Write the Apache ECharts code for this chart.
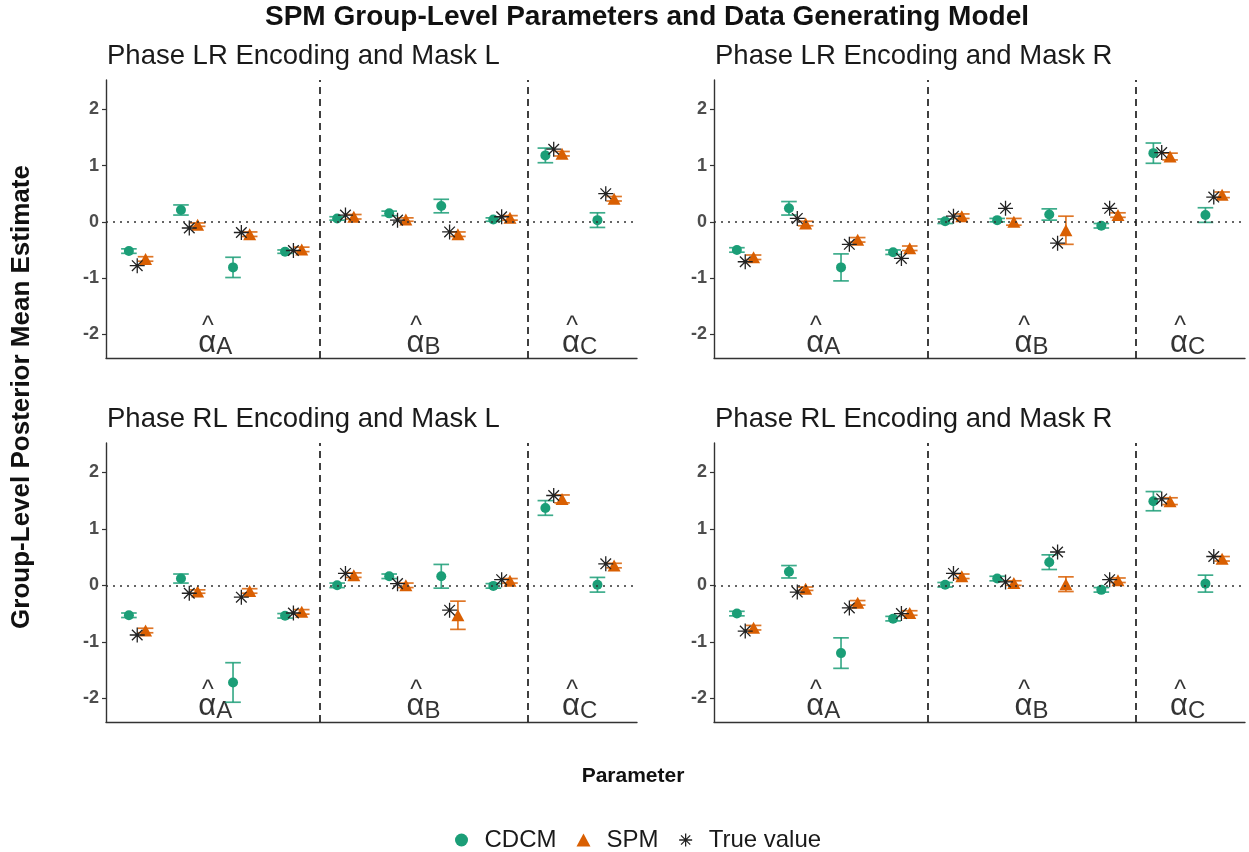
<!DOCTYPE html>
<html>
<head>
<meta charset="utf-8">
<script src="https://cdn.jsdelivr.net/npm/echarts@6/dist/echarts.min.js"></script>
<style>
  html, body { margin: 0; padding: 0; background: #ffffff; }
  #chart { width: 1249px; height: 852px; }
</style>
</head>
<body>
<div id="chart"></div>
<script>
// ---- Data -------------------------------------------------------------
const positions = [1, 2, 3, 4, 5, 6, 7, 8, 9, 10];
const groupBoundaries = [4.5, 8.5];
const groupLabelPositions = [2.5, 6.5, 9.5];
const groupLabelSubscripts = ['A', 'B', 'C'];
const yTicks = [-2, -1, 0, 1, 2];
const panelTitles = [
  'Phase LR Encoding and Mask L',
  'Phase LR Encoding and Mask R',
  'Phase RL Encoding and Mask L',
  'Phase RL Encoding and Mask R'
];

// Phase LR, Mask L
const cdcmLRL = [-0.52, 0.21, -0.81, -0.53, 0.06, 0.15, 0.28, 0.04, 1.18, 0.03];
const cdcmErrLRL = [0.04, 0.09, 0.18, 0.03, 0.03, 0.04, 0.12, 0.03, 0.13, 0.13];
const spmLRL = [-0.66, -0.05, -0.22, -0.49, 0.09, 0.04, -0.22, 0.07, 1.21, 0.41];
const spmErrLRL = [0.04, 0.03, 0.04, 0.04, 0.04, 0.03, 0.04, 0.04, 0.04, 0.04];
const trueLRL = [-0.78, -0.11, -0.19, -0.51, 0.12, 0.03, -0.18, 0.09, 1.29, 0.50];

// Phase LR, Mask R
const cdcmLRR = [-0.50, 0.24, -0.81, -0.54, 0.01, 0.03, 0.13, -0.07, 1.22, 0.12];
const cdcmErrLRR = [0.04, 0.12, 0.24, 0.04, 0.04, 0.03, 0.10, 0.04, 0.18, 0.13];
const spmLRR = [-0.63, -0.03, -0.32, -0.47, 0.10, 0.00, -0.15, 0.12, 1.16, 0.48];
const spmErrLRR = [0.04, 0.04, 0.04, 0.04, 0.04, 0.06, 0.25, 0.04, 0.06, 0.05];
const trueLRR = [-0.71, 0.06, -0.40, -0.65, 0.10, 0.24, -0.38, 0.24, 1.23, 0.44];

// Phase RL, Mask L
const cdcmRLL = [-0.53, 0.12, -1.72, -0.54, 0.00, 0.16, 0.16, -0.01, 1.37, 0.01];
const cdcmErrRLL = [0.04, 0.08, 0.35, 0.04, 0.04, 0.04, 0.21, 0.04, 0.13, 0.13];
const spmRLL = [-0.80, -0.11, -0.10, -0.47, 0.18, 0.00, -0.53, 0.08, 1.53, 0.35];
const spmErrRLL = [0.04, 0.03, 0.04, 0.04, 0.04, 0.04, 0.25, 0.04, 0.07, 0.04];
const trueRLL = [-0.88, -0.14, -0.21, -0.49, 0.21, 0.03, -0.44, 0.10, 1.59, 0.38];

// Phase RL, Mask R
const cdcmRLR = [-0.50, 0.24, -1.20, -0.59, 0.01, 0.12, 0.41, -0.08, 1.49, 0.03];
const cdcmErrRLR = [0.04, 0.11, 0.27, 0.04, 0.04, 0.04, 0.13, 0.04, 0.17, 0.15];
const spmRLR = [-0.75, -0.06, -0.31, -0.49, 0.16, 0.04, 0.02, 0.09, 1.49, 0.47];
const spmErrRLR = [0.04, 0.03, 0.04, 0.04, 0.04, 0.04, 0.13, 0.04, 0.06, 0.04];
const trueRLR = [-0.81, -0.12, -0.40, -0.50, 0.21, 0.06, 0.59, 0.10, 1.53, 0.51];

// ---- Styling / layout -------------------------------------------------
const FONT = '"Liberation Sans", Arial, Helvetica, sans-serif';
const GREEN = '#1b9e77';
const ORANGE = '#d95f02';
const STAR = '#222222';
const AXIS = '#333333';
const DODGE = 0.16;        // horizontal offset of the two model estimates
const CAP_WIDTH = 0.3;     // error-bar cap width in x units
const GROUP_LABEL_Y = -2.10;
const STAR_PATH = 'path://M10,0L10,20M0,10L20,10M2.93,2.93L17.07,17.07M2.93,17.07L17.07,2.93';

const panels = [
  { title: panelTitles[0], cdcm: cdcmLRL, cdcmErr: cdcmErrLRL, spm: spmLRL, spmErr: spmErrLRL, truth: trueLRL },
  { title: panelTitles[1], cdcm: cdcmLRR, cdcmErr: cdcmErrLRR, spm: spmLRR, spmErr: spmErrLRR, truth: trueLRR },
  { title: panelTitles[2], cdcm: cdcmRLL, cdcmErr: cdcmErrRLL, spm: spmRLL, spmErr: spmErrRLL, truth: trueRLL },
  { title: panelTitles[3], cdcm: cdcmRLR, cdcmErr: cdcmErrRLR, spm: spmRLR, spmErr: spmErrRLR, truth: trueRLR }
];

const grids = [
  { left: 106, top: 80, width: 531, height: 278 },
  { left: 714, top: 80, width: 531, height: 278 },
  { left: 106, top: 443, width: 531, height: 279 },
  { left: 714, top: 443, width: 531, height: 279 }
];
const panelTitleY = [56, 419];

function errorBarRenderer(color) {
  return function (params, api) {
    const x = api.value(0);
    const lo = api.coord([x, api.value(1)]);
    const hi = api.coord([x, api.value(2)]);
    const half = api.size([CAP_WIDTH, 0])[0] / 2;
    const style = { stroke: color, lineWidth: 1.7, opacity: 0.85 };
    return {
      type: 'group',
      children: [
        { type: 'line', shape: { x1: lo[0], y1: lo[1], x2: hi[0], y2: hi[1] }, style: style },
        { type: 'line', shape: { x1: lo[0] - half, y1: lo[1], x2: lo[0] + half, y2: lo[1] }, style: style },
        { type: 'line', shape: { x1: hi[0] - half, y1: hi[1], x2: hi[0] + half, y2: hi[1] }, style: style }
      ]
    };
  };
}

const xAxes = [], yAxes = [], series = [];
panels.forEach(function (p, i) {
  xAxes.push({
    gridIndex: i, type: 'value', min: 0.4, max: 10.6,
    axisLine: { show: true, onZero: false, lineStyle: { color: AXIS, width: 1.4 } },
    axisTick: { show: false }, axisLabel: { show: false }, splitLine: { show: false }
  });
  yAxes.push({
    gridIndex: i, type: 'value', min: -2.42, max: 2.52,
    axisLine: { show: true, onZero: false, lineStyle: { color: AXIS, width: 1.4 } },
    axisTick: { show: true, length: 4, customValues: yTicks, lineStyle: { color: AXIS, width: 1.2 } },
    axisLabel: {
      show: true, customValues: yTicks, margin: 7,
      color: '#4d4d4d', fontSize: 18, fontWeight: 'bold', fontFamily: FONT
    },
    splitLine: { show: false }
  });

  // reference lines and group labels (alpha-hat with subscript)
  series.push({
    type: 'scatter', name: 'groups-' + i, xAxisIndex: i, yAxisIndex: i,
    silent: true, symbolSize: 1, itemStyle: { color: 'rgba(0,0,0,0)' }, z: 1,
    data: groupLabelPositions.map(function (x, k) { return { value: [x, GROUP_LABEL_Y], sub: groupLabelSubscripts[k] }; }),
    label: {
      show: true, position: 'inside', color: '#000',
      formatter: function (d) { return '{h|^}{sp| }\n{a|α}{s|' + d.data.sub + '}'; },
      rich: {
        h: { fontSize: 25, lineHeight: 2, fontFamily: FONT, color: '#000' },
        sp: { width: 15, fontSize: 10, lineHeight: 2 },
        a: { fontSize: 31, lineHeight: 26, fontFamily: FONT, color: '#000', padding: [4, 0, 0, 0] },
        s: { fontSize: 24, lineHeight: 26, fontFamily: FONT, color: '#000', padding: [12, 0, 0, 0] }
      }
    },
    markLine: {
      silent: true, symbol: ['none', 'none'], label: { show: false }, animation: false,
      data: [
        { yAxis: 0, lineStyle: { color: AXIS, width: 1.6, type: [2, 5] } }
      ].concat(groupBoundaries.map(function (b) {
        return { xAxis: b, lineStyle: { color: '#111', width: 1.6, type: [7, 5] } };
      }))
    }
  });

  series.push({
    type: 'scatter', name: 'CDCM', xAxisIndex: i, yAxisIndex: i, z: 4,
    symbol: 'circle', symbolSize: 10, itemStyle: { color: GREEN, opacity: 1 },
    data: positions.map(function (x, j) { return [x - DODGE, p.cdcm[j]]; })
  });
  series.push({
    type: 'scatter', name: 'SPM', xAxisIndex: i, yAxisIndex: i, z: 4,
    symbol: 'triangle', symbolSize: [13, 12], itemStyle: { color: ORANGE, opacity: 1 },
    data: positions.map(function (x, j) { return [x + DODGE, p.spm[j]]; })
  });
  series.push({
    type: 'scatter', name: 'True value', xAxisIndex: i, yAxisIndex: i, z: 5,
    symbol: STAR_PATH, symbolSize: 15,
    itemStyle: { color: STAR, borderColor: STAR, borderWidth: 1.3, opacity: 1 },
    data: positions.map(function (x, j) { return [x, p.truth[j]]; })
  });
  series.push({
    type: 'custom', name: 'CDCM interval', xAxisIndex: i, yAxisIndex: i, z: 3,
    renderItem: errorBarRenderer(GREEN), encode: { x: 0, y: [1, 2] },
    data: positions.map(function (x, j) { return [x - DODGE, p.cdcm[j] - p.cdcmErr[j], p.cdcm[j] + p.cdcmErr[j]]; })
  });
  series.push({
    type: 'custom', name: 'SPM interval', xAxisIndex: i, yAxisIndex: i, z: 3,
    renderItem: errorBarRenderer(ORANGE), encode: { x: 0, y: [1, 2] },
    data: positions.map(function (x, j) { return [x + DODGE, p.spm[j] - p.spmErr[j], p.spm[j] + p.spmErr[j]]; })
  });
});

const graphicTexts = [
  { type: 'text', x: 647, y: 17, style: { text: 'SPM Group-Level Parameters and Data Generating Model',
    font: 'bold 28px ' + FONT, fill: '#111', textAlign: 'center', textVerticalAlign: 'middle' } },
  { type: 'text', x: 633, y: 776, style: { text: 'Parameter',
    font: 'bold 21px ' + FONT, fill: '#111', textAlign: 'center', textVerticalAlign: 'middle' } },
  { type: 'text', x: 22, y: 397, rotation: Math.PI / 2, style: { text: 'Group-Level Posterior Mean Estimate',
    font: 'bold 26px ' + FONT, fill: '#111', textAlign: 'center', textVerticalAlign: 'middle' } }
];
panels.forEach(function (p, i) {
  graphicTexts.push({ type: 'text', x: grids[i].left + 1, y: panelTitleY[i < 2 ? 0 : 1],
    style: { text: p.title, font: '27.5px ' + FONT, fill: '#1a1a1a', textAlign: 'left', textVerticalAlign: 'middle' } });
});

const chart = echarts.init(document.getElementById('chart'), null, { renderer: 'canvas' });
chart.setOption({
  animation: false,
  backgroundColor: '#ffffff',
  grid: grids,
  xAxis: xAxes,
  yAxis: yAxes,
  legend: {
    left: 455, top: 828, padding: 0, itemGap: 20, itemWidth: 14, itemHeight: 13,
    textStyle: { fontSize: 24, fontFamily: FONT, color: '#1a1a1a', padding: [0, 0, 0, 11] },
    data: [
      { name: 'CDCM', icon: 'circle', itemStyle: { color: GREEN } },
      { name: 'SPM', icon: 'triangle', itemStyle: { color: ORANGE } },
      { name: 'True value', icon: STAR_PATH, itemStyle: { color: STAR, borderColor: STAR, borderWidth: 1.3 } }
    ]
  },
  graphic: graphicTexts,
  series: series
});
</script>
</body>
</html>
